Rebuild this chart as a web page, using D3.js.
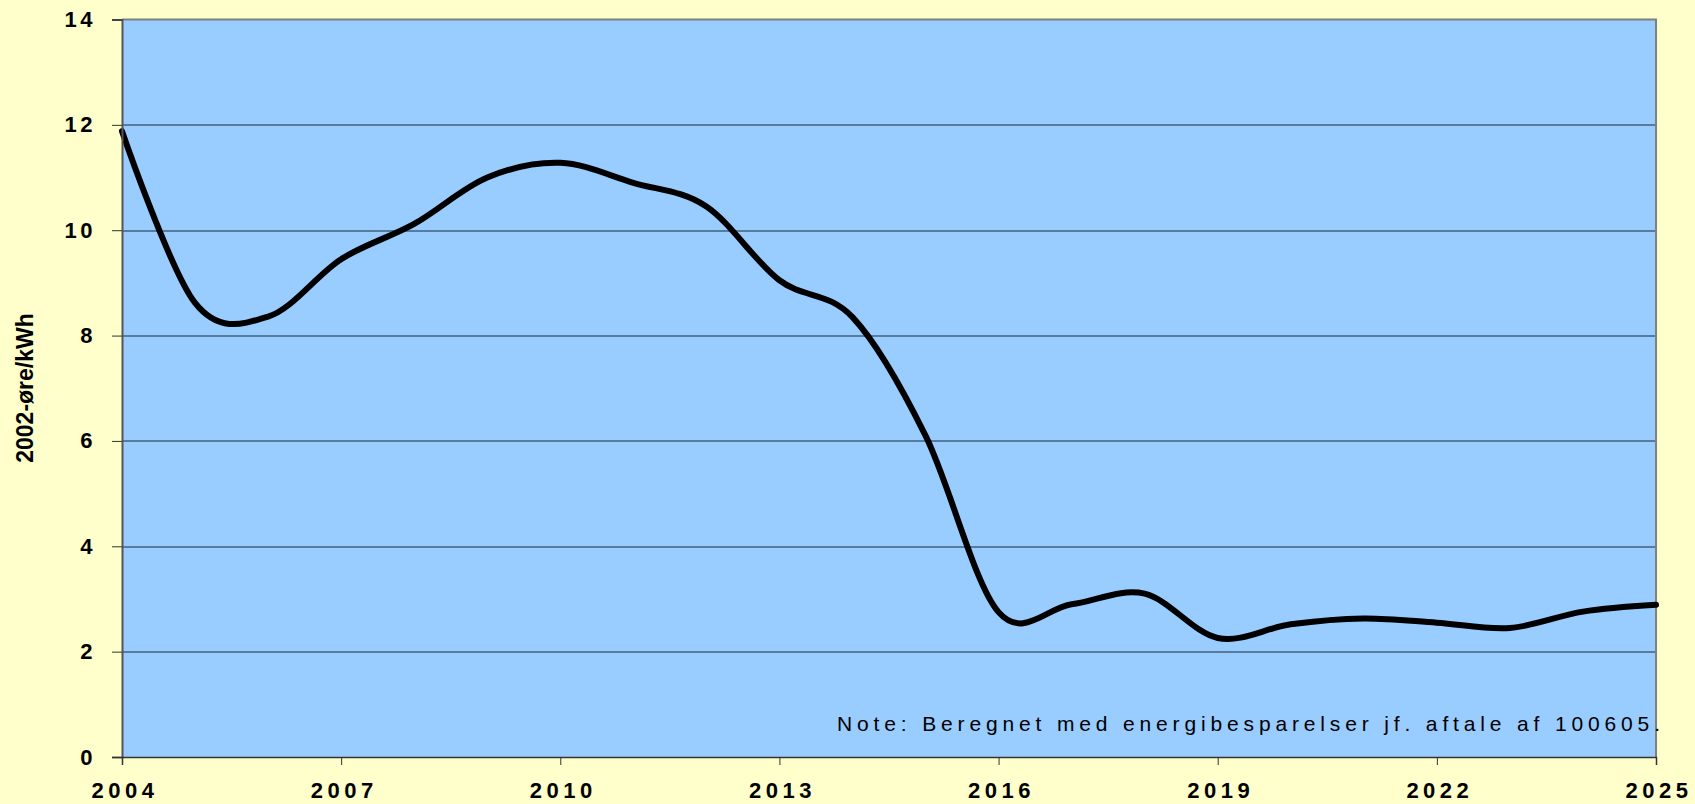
<!DOCTYPE html>
<html lang="da">
<head>
    <meta charset="UTF-8">
    <script src="https://cdn.jsdelivr.net/npm/d3@7"></script>
    <title>2002-øre/kWh</title>
    <style>
        body {
            margin: 0;
            background: #FFFFCC;
            font-family: Arial, "Liberation Sans", Helvetica, sans-serif;
        }
        svg { display: block; }
    </style>
</head>
<body>
<script>
    // data
    var years = [2004, 2005, 2006, 2007, 2008, 2009, 2010, 2011, 2012, 2013, 2014,
                 2015, 2016, 2017, 2018, 2019, 2020, 2021, 2022, 2023, 2024, 2025];
    var prices = [11.88, 8.62, 8.36, 9.45, 10.12, 11.0, 11.28, 10.9, 10.45, 9.05, 8.35,
                  6.1, 2.75, 2.9, 3.1, 2.26, 2.52, 2.63, 2.55, 2.45, 2.76, 2.89];
    var yearTicks = [2004, 2007, 2010, 2013, 2016, 2019, 2022, 2025];
    var valueTicks = [0, 2, 4, 6, 8, 10, 12, 14];
    var yTitle = "2002-øre/kWh";
    var noteText = "Note: Beregnet med energibesparelser jf. aftale af 100605.";

    var W = 1695, H = 804;
    var margin = {top: 19.5, right: 39, bottom: 47, left: 122};
    var width = W - margin.left - margin.right,
        height = H - margin.top - margin.bottom;

    var svg = d3.select("body").append("svg")
        .attr("width", W)
        .attr("height", H);

    var g = svg.append("g")
        .attr("transform", "translate(" + margin.left + "," + margin.top + ")");

    var x = d3.scaleLinear().domain([2004, 2025]).range([0, width]);
    var y = d3.scaleLinear().domain([0, 14]).range([height, 0]);

    // plot area
    g.append("rect")
        .attr("width", width)
        .attr("height", height)
        .attr("fill", "#99CCFF");

    // gridlines
    g.selectAll("line.grid")
        .data(valueTicks.filter(function(v) { return v > 0 && v < 14; }))
        .enter().append("line")
        .attr("class", "grid")
        .attr("x1", 0).attr("x2", width)
        .attr("y1", function(d) { return Math.round(y(d)) + 0.5; })
        .attr("y2", function(d) { return Math.round(y(d)) + 0.5; })
        .attr("stroke", "#1a2a3a")
        .attr("stroke-width", 1.2);

    // top + right border
    g.append("path")
        .attr("d", "M0," + 0 + "H" + width + "V" + height)
        .attr("fill", "none")
        .attr("stroke", "#808080")
        .attr("stroke-width", 2);

    // the curve
    var line = d3.line()
        .x(function(d, i) { return x(years[i]); })
        .y(function(d) { return y(d); })
        .curve(d3.curveCatmullRom.alpha(0));

    g.append("path")
        .datum(prices)
        .attr("d", line)
        .attr("fill", "none")
        .attr("stroke", "#000")
        .attr("stroke-width", 6)
        .attr("stroke-linejoin", "round")
        .attr("stroke-linecap", "round");

    // axes
    var yAxis = d3.axisLeft(y)
        .tickValues(valueTicks)
        .tickSize(10)
        .tickPadding(16)
        .tickFormat(d3.format("d"));

    var xAxis = d3.axisBottom(x)
        .tickValues(yearTicks)
        .tickSize(8)
        .tickPadding(17)
        .tickFormat(d3.format("d"));

    var gy = g.append("g").call(yAxis);
    gy.select(".domain").attr("stroke", "#555").attr("stroke-width", 2);
    gy.selectAll(".tick line").attr("stroke", "#333");
    gy.selectAll("text")
        .attr("fill", "#000")
        .style("font-size", "22px")
        .style("font-weight", "bold")
        .style("letter-spacing", "3.5px")
        .style("font-family", "Arial, 'Liberation Sans', sans-serif");

    var gx = g.append("g")
        .attr("transform", "translate(0," + height + ")")
        .call(xAxis);
    gx.select(".domain").attr("stroke", "#333").attr("stroke-width", 1.5);
    gx.selectAll(".tick line").attr("stroke", "#333");
    gx.selectAll("text")
        .attr("fill", "#000")
        .attr("dx", 2.5)
        .style("font-size", "22px")
        .style("font-weight", "bold")
        .style("letter-spacing", "4.5px")
        .style("font-family", "Arial, 'Liberation Sans', sans-serif");

    // axis title
    svg.append("text")
        .attr("transform", "translate(33,388) rotate(-90)")
        .attr("text-anchor", "middle")
        .style("font-size", "23px")
        .style("font-weight", "bold")
        .text(yTitle);

    // note
    svg.append("text")
        .attr("x", 837)
        .attr("y", 731)
        .attr("textLength", 823)
        .attr("lengthAdjust", "spacing")
        .style("font-size", "21px")
        .text(noteText);
</script>
</body>
</html>
